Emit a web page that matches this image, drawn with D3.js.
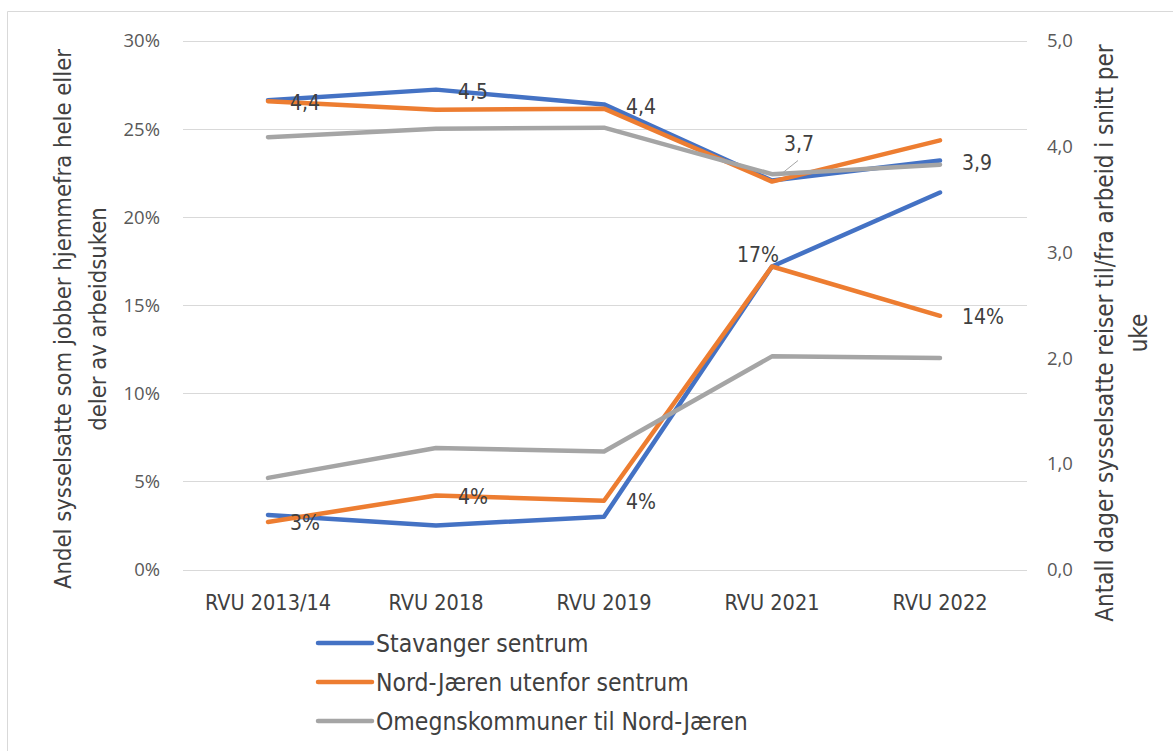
<!DOCTYPE html>
<html>
<head>
<meta charset="utf-8">
<script src="https://cdn.jsdelivr.net/npm/d3@7"></script>
<style>
  body { margin: 0; background: #fff; }
  .narrow { font-family: "Liberation Sans Narrow", "DejaVu Sans Condensed", "Roboto", sans-serif; }
  .tick-num { font-family: "Open Sans", "DejaVu Sans", sans-serif; }
</style>
</head>
<body>
<svg id="chart" width="1173" height="751"></svg>
<script>
// categories and series
var categories = ["RVU 2013/14", "RVU 2018", "RVU 2019", "RVU 2021", "RVU 2022"];
var seriesNames = ["Stavanger sentrum", "Nord-Jæren utenfor sentrum", "Omegnskommuner til Nord-Jæren"];

// share working from home (left axis)
var pctStavanger = [0.031, 0.025, 0.030, 0.172, 0.214];
var pctNordJaeren = [0.027, 0.042, 0.039, 0.172, 0.144];
var pctOmegn = [0.052, 0.069, 0.067, 0.121, 0.120];

// days travelling to/from work per week (right axis)
var daysStavanger = [4.44, 4.54, 4.40, 3.68, 3.87];
var daysNordJaeren = [4.43, 4.35, 4.36, 3.67, 4.06];
var daysOmegn = [4.09, 4.17, 4.18, 3.74, 3.83];

var leftTicks = [0, 0.05, 0.10, 0.15, 0.20, 0.25, 0.30];
var rightTicks = [0, 1, 2, 3, 4, 5];

var colors = ["#4472C4", "#ED7D31", "#A5A5A5"];
var textColor = "#404040";

var svg = d3.select("svg#chart");

// outer frame (only top and left edge visible)
svg.append("path")
  .attr("d", "M7.5,751 V11.5 H1173")
  .attr("fill", "none")
  .attr("stroke", "#d9d9d9")
  .attr("stroke-width", 1);

var x = d3.scaleBand().domain(categories).range([184, 1024]);
var cx = function (c) { return x(c) + x.bandwidth() / 2; };
var yL = d3.scaleLinear().domain([0, 0.30]).range([569.5, 41]);
var yR = d3.scaleLinear().domain([0, 5]).range([569.5, 41]);

// gridlines
svg.append("g")
  .selectAll("line")
  .data(leftTicks)
  .join("line")
  .attr("x1", 183)
  .attr("x2", 1027)
  .attr("y1", d => Math.round(yL(d)) + 0.5)
  .attr("y2", d => Math.round(yL(d)) + 0.5)
  .attr("stroke", "#d9d9d9")
  .attr("stroke-width", 1);

// left axis labels
var fmtPct = d3.format(".0%");
svg.append("g")
  .selectAll("text")
  .data(leftTicks)
  .join("text")
  .attr("class", "tick-num")
  .attr("x", 160)
  .attr("y", d => yL(d))
  .attr("dy", "0.35em")
  .attr("text-anchor", "end")
  .attr("font-size", 18.5)
  .attr("fill", "#595959")
  .text(d => fmtPct(d));

// right axis labels
var fmtDay = function (v) { return d3.format(".1f")(v).replace(".", ","); };
svg.append("g")
  .selectAll("text")
  .data(rightTicks)
  .join("text")
  .attr("class", "tick-num")
  .attr("x", 1047)
  .attr("y", d => yR(d))
  .attr("dy", "0.35em")
  .attr("text-anchor", "start")
  .attr("font-size", 18.5)
  .attr("fill", "#595959")
  .text(d => fmtDay(d));

// category labels
svg.append("g")
  .selectAll("text")
  .data(categories)
  .join("text")
  .attr("class", "narrow")
  .attr("x", d => cx(d))
  .attr("y", 602)
  .attr("dy", "0.35em")
  .attr("text-anchor", "middle")
  .attr("font-size", 21.5)
  .attr("fill", textColor)
  .text(d => d);

// axis titles
var leftTitle = svg.append("text")
  .attr("class", "narrow")
  .attr("transform", "translate(63,319) rotate(-90)")
  .attr("text-anchor", "middle")
  .attr("font-size", 23.6)
  .attr("fill", textColor);
leftTitle.append("tspan").attr("x", 0).attr("dy", "0.35em").text("Andel sysselsatte som jobber hjemmefra hele eller");
leftTitle.append("tspan").attr("x", 0).attr("dy", "1.48em").text("deler av arbeidsuken");

var rightTitle = svg.append("text")
  .attr("class", "narrow")
  .attr("transform", "translate(1105,333) rotate(-90)")
  .attr("text-anchor", "middle")
  .attr("font-size", 24)
  .attr("fill", textColor);
rightTitle.append("tspan").attr("x", 0).attr("dy", "0.35em").text("Antall dager sysselsatte reiser til/fra arbeid i snitt per");
rightTitle.append("tspan").attr("x", 0).attr("dy", "1.4em").text("uke");

// lines
var pctSeries = [pctStavanger, pctNordJaeren, pctOmegn];
var daySeries = [daysStavanger, daysNordJaeren, daysOmegn];

var lineL = d3.line().x((d, i) => cx(categories[i])).y(d => yL(d));
var lineR = d3.line().x((d, i) => cx(categories[i])).y(d => yR(d));

var lines = svg.append("g")
  .attr("fill", "none")
  .attr("stroke-width", 4.5)
  .attr("stroke-linecap", "round")
  .attr("stroke-linejoin", "round");

pctSeries.forEach(function (s, k) {
  lines.append("path").attr("d", lineL(s)).attr("stroke", colors[k]);
});
daySeries.forEach(function (s, k) {
  lines.append("path").attr("d", lineR(s)).attr("stroke", colors[k]);
});

// data labels
var labels = svg.append("g")
  .attr("class", "narrow")
  .attr("font-size", 21)
  .attr("fill", textColor);

pctNordJaeren.forEach(function (v, i) {
  var px = cx(categories[i]), py = yL(v);
  var t = labels.append("text").attr("dy", "0.35em").text(fmtPct(v));
  if (i === 3) {
    t.attr("x", px - 35).attr("y", py - 12);
  } else {
    t.attr("x", px + 22).attr("y", py + 1);
  }
});

daysStavanger.forEach(function (v, i) {
  var px = cx(categories[i]), py = yR(v);
  var t = labels.append("text").attr("dy", "0.35em").text(fmtDay(v));
  if (i === 3) {
    t.attr("x", px + 12).attr("y", py - 37);
    svg.append("line")
      .attr("x1", px + 26).attr("y1", py - 20)
      .attr("x2", px + 11).attr("y2", py - 8)
      .attr("stroke", "#A5A5A5")
      .attr("stroke-width", 1);
  } else {
    t.attr("x", px + 22).attr("y", py + 2);
  }
});

// legend
var legend = svg.append("g")
  .selectAll("g")
  .data(seriesNames)
  .join("g")
  .attr("transform", (d, i) => "translate(318," + (643 + i * 39) + ")");

legend.append("line")
  .attr("x1", 0).attr("x2", 54)
  .attr("stroke", (d, i) => colors[i])
  .attr("stroke-width", 4.5)
  .attr("stroke-linecap", "round");

legend.append("text")
  .attr("class", "narrow")
  .attr("x", 58)
  .attr("dy", "0.35em")
  .attr("font-size", 24.5)
  .attr("fill", textColor)
  .text(d => d);
</script>
</body>
</html>
